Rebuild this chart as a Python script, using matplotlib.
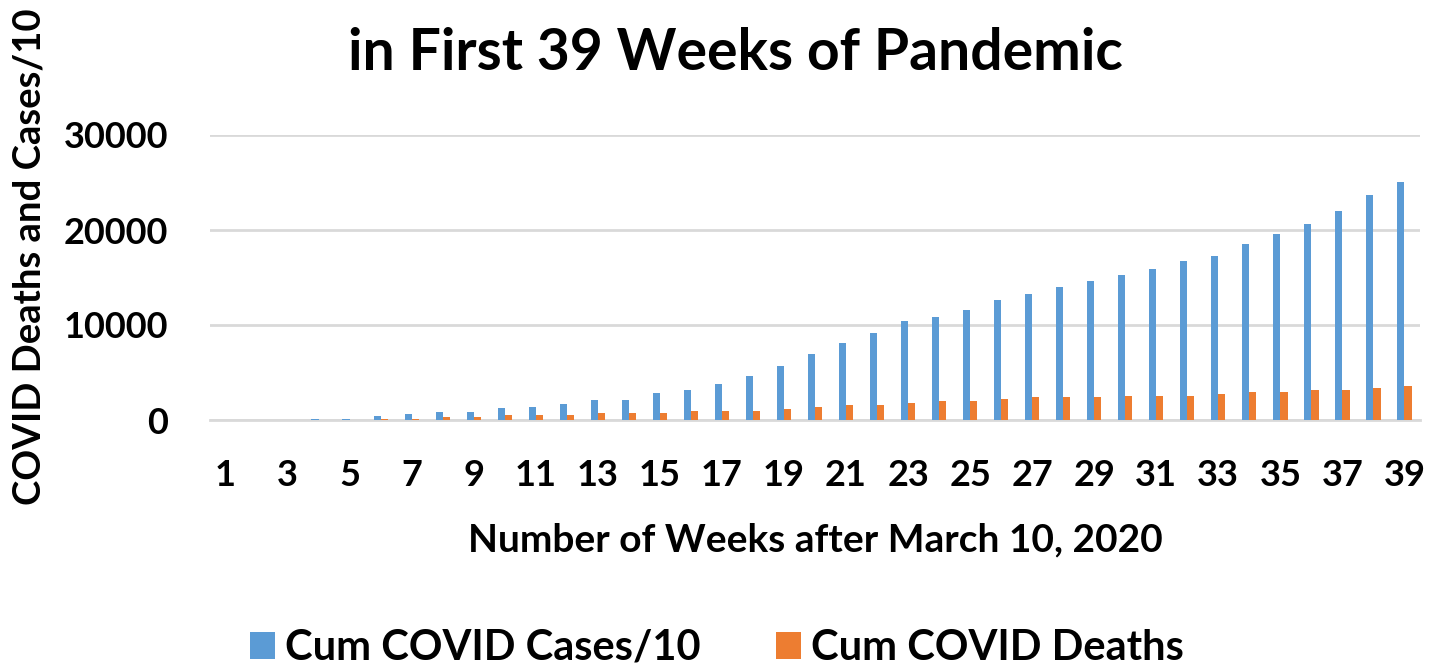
import numpy as np
import matplotlib.pyplot as plt

plt.rcParams['font.family'] = ['Lato', 'DejaVu Sans']
plt.rcParams['font.weight'] = 'bold'

weeks = np.arange(1, 40)
cases_10 = [10, 20, 40, 80, 150, 400, 600, 800, 800, 1250,
            1400, 1650, 2070, 2140, 2800, 3190, 3790, 4630, 5640, 6910,
            8060, 9160, 10380, 10800, 11610, 12660, 13230, 14030, 14630, 15260,
            15860, 16700, 17300, 18560, 19540, 20600, 22030, 23680, 25090]
deaths = [2, 5, 10, 20, 40, 70, 120, 350, 350, 550,
          550, 550, 760, 750, 760, 980, 980, 990, 1160, 1400,
          1610, 1620, 1790, 2000, 2010, 2160, 2390, 2390, 2400, 2560,
          2560, 2570, 2770, 2980, 2990, 3190, 3200, 3370, 3580]
yticks = [0, 10000, 20000, 30000]

blue = '#5b9bd5'
orange = '#ed7d31'

fig = plt.figure(figsize=(14.4, 6.72), dpi=100)
ax = fig.add_axes([210 / 1440, 1 - 420 / 672, 1210 / 1440, 285 / 672])

w = 0.23
ax.bar(weeks - w / 2, cases_10, width=w, color=blue, label='Cum COVID Cases/10', zorder=3)
ax.bar(weeks + w / 2, deaths, width=w, color=orange, label='Cum COVID Deaths', zorder=3)

ax.set_xlim(0.5, 39.5)
ax.set_ylim(0, 30000)
ax.set_yticks(yticks)
ax.set_yticklabels([str(t) for t in yticks])
ax.set_xticks(weeks[::2])
ax.set_xticklabels([str(n) for n in weeks[::2]])
ax.tick_params(axis='both', length=0, labelsize=26)
ax.tick_params(axis='y', pad=30)
ax.tick_params(axis='x', pad=28)
ax.grid(axis='y', color='#d9d9d9', linewidth=2, zorder=0)
for s in ['top', 'right', 'left']:
    ax.spines[s].set_visible(False)
ax.spines['bottom'].set_color('#d9d9d9')
ax.spines['bottom'].set_linewidth(2)

fig.text(735 / 1440, 1 - 53 / 672, 'in First 39 Weeks of Pandemic',
         ha='center', va='center', fontsize=41, fontweight='bold')
fig.text(815 / 1440, 1 - 540 / 672, 'Number of Weeks after March 10, 2020',
         ha='center', va='center', fontsize=28, fontweight='bold')
fig.text(30 / 1440, 1 - 505 / 672, 'COVID Deaths and Cases/10',
         ha='center', va='bottom', rotation=90, fontsize=27.5, fontweight='bold')

fig.legend(loc='center', bbox_to_anchor=(717 / 1440, 1 - 648 / 672), ncol=2,
           frameon=False, fontsize=30, handlelength=0.6, handleheight=0.6,
           columnspacing=1.8, handletextpad=0.25)

fig.savefig('out.png', dpi=100)
